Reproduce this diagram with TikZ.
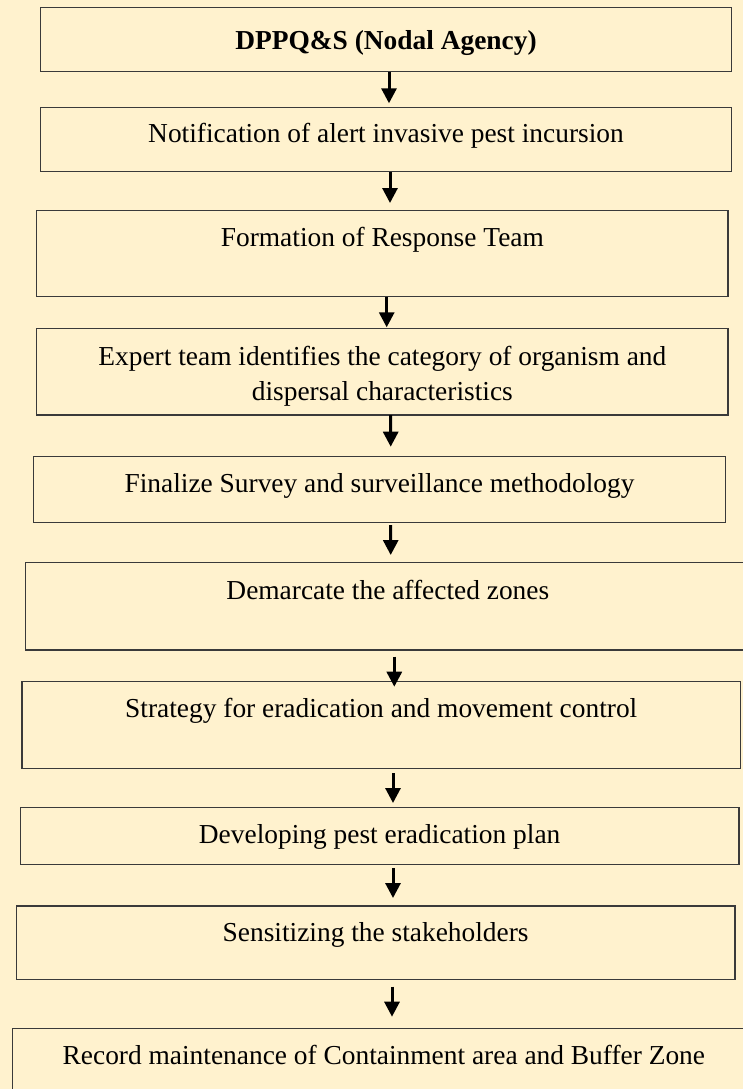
\documentclass[tikz,border=0pt]{standalone}
\usepackage{fontspec}
\setmainfont{Liberation Serif}
\usetikzlibrary{arrows.meta}
\definecolor{paper}{RGB}{255,242,206}
\definecolor{edge}{RGB}{58,58,58}
\begin{document}
\begin{tikzpicture}[x=1pt,y=-1pt,
  box/.style={rectangle, draw=edge, line width=1.4pt, fill=paper, inner sep=0pt, outer sep=0pt},
  lbl/.style={font=\fontsize{27.4}{35}\selectfont, inner sep=0pt, align=center, anchor=base},
  arr/.style={line width=3pt, -{Triangle[length=15pt,width=15pt]}}]
\useasboundingbox[fill=paper] (0,0) rectangle (743,1089);

% process boxes
\node[box, minimum width=690.6pt, minimum height=64.4pt] (b1) at (386,39.5) {};
\node[box, minimum width=690.6pt, minimum height=64.4pt] (b2) at (386,139.5) {};
\node[box, minimum width=691.3pt, minimum height=86.2pt] (b3) at (382.35,253.6) {};
\node[box, minimum width=691.3pt, minimum height=86.7pt] (b4) at (382.35,371.65) {};
\node[box, minimum width=692.4pt, minimum height=66pt] (b5) at (379.5,489.7) {};
\node[box, minimum width=724.3pt, minimum height=87.3pt] (b6) at (387.85,606.35) {};
\node[box, minimum width=718.5pt, minimum height=86.6pt] (b7) at (381.25,725) {};
\node[box, minimum width=718.7pt, minimum height=56.6pt] (b8) at (379.65,836) {};
\node[box, minimum width=718.7pt, minimum height=73.3pt] (b9) at (375.65,942.65) {};
\node[box, minimum width=742.3pt, minimum height=81.3pt] (b10) at (383.85,1069.35) {};

% box texts (base anchor = baseline of the last line)
\node[lbl, font=\fontsize{27.4}{35}\selectfont\bfseries] (t1) at ([yshift=-42.7pt]b1.north) {DPPQ\&S (Nodal Agency)};
\node[lbl] (t2) at ([yshift=-35.5pt]b2.north) {Notification of alert invasive pest incursion};
\node[lbl] (t3) at ([yshift=-35.5pt]b3.north) {Formation of Response Team};
\node[lbl] (t4) at ([yshift=-71.7pt]b4.north) {Expert team identifies the category of organism and\\dispersal characteristics};
\node[lbl] (t5) at ([yshift=-35.5pt]b5.north) {Finalize Survey and surveillance methodology};
\node[lbl] (t6) at ([yshift=-36.5pt]b6.north) {Demarcate the affected zones};
\node[lbl] (t7) at ([yshift=-35.5pt]b7.north) {Strategy for eradication and movement control};
\node[lbl] (t8) at ([yshift=-35.5pt]b8.north) {Developing pest eradication plan};
\node[lbl] (t9) at ([yshift=-35.5pt]b9.north) {Sensitizing the stakeholders};
\node[lbl] (t10) at ([yshift=-35.5pt]b10.north) {Record maintenance of Containment area and Buffer Zone};

% flow arrows
\draw[arr] ([xshift=3pt]b1.south) -- ([xshift=3pt,yshift=4pt]b2.north);
\draw[arr] ([xshift=4pt]b2.south) -- ([xshift=7.65pt,yshift=7.5pt]b3.north);
\draw[arr] ([xshift=4.35pt]b3.south) -- ([xshift=4.35pt,yshift=1pt]b4.north);
\draw[arr] ([xshift=8.35pt]b4.south) -- ([xshift=11.2pt,yshift=10pt]b5.north);
\draw[arr] ([xshift=11.2pt,yshift=-2.3pt]b5.south) -- ([xshift=2.85pt,yshift=7.7pt]b6.north);
\draw[arr] ([xshift=6.45pt,yshift=-6.7pt]b6.south) -- ([xshift=13.05pt,yshift=-5pt]b7.north);
\draw[arr] ([xshift=11.75pt,yshift=-4.7pt]b7.south) -- ([xshift=13.35pt,yshift=4.7pt]b8.north);
\draw[arr] ([xshift=13.35pt,yshift=-3.7pt]b8.south) -- ([xshift=17.35pt,yshift=8pt]b9.north);
\draw[arr] ([xshift=16.35pt,yshift=-7.4pt]b9.south) -- ([xshift=8.15pt,yshift=12pt]b10.north);
\end{tikzpicture}
\end{document}
